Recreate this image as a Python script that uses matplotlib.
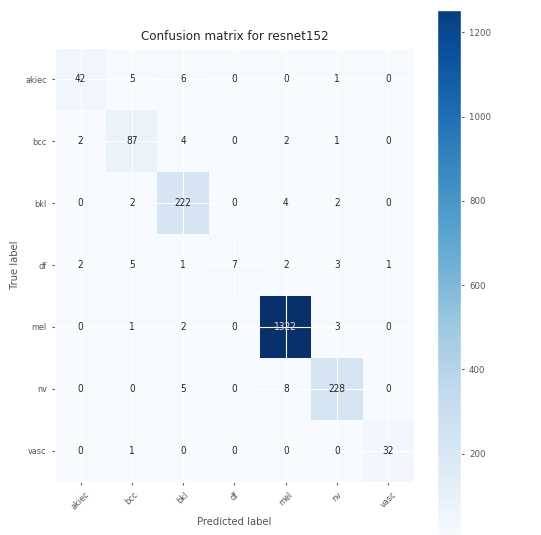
import itertools
import numpy as np
import matplotlib.pyplot as plt

classes = ['akiec', 'bcc', 'bkl', 'df', 'mel', 'nv', 'vasc']
cm = np.array([
    [42, 5, 6, 0, 0, 1, 0],
    [2, 87, 4, 0, 2, 1, 0],
    [0, 2, 222, 0, 4, 2, 0],
    [2, 5, 1, 7, 2, 3, 1],
    [0, 1, 2, 0, 1322, 3, 0],
    [0, 0, 5, 0, 8, 228, 0],
    [0, 1, 0, 0, 0, 0, 32],
])
cbar_ticks = [200, 400, 600, 800, 1000, 1200]
title = 'Confusion matrix for resnet152'

plt.style.use('ggplot')
plt.rcParams['font.family'] = ['DejaVu Sans']
plt.rcParams['font.stretch'] = 'condensed'

W, H = 541, 535
fig = plt.figure(figsize=(W / 100, H / 100), dpi=100)
ax = fig.add_axes([55 / W, (H - 481.7) / H, 359 / W, 433.4 / H])

im = ax.imshow(cm, interpolation='nearest', cmap=plt.cm.Blues, aspect='auto')
ax.set_title(title, fontsize=9.5, color='#262626')

cax = fig.add_axes([437.3 / W, -3 / H, 23.4 / W, (525.5 + 3) / H])
cb = fig.colorbar(im, cax=cax, ticks=cbar_ticks)
cax.set_ylim(0, 1254)
cax.tick_params(labelsize=6.8, colors='#555555', length=2.5)
cax.grid(False)

tick_marks = np.arange(len(classes))
ax.set_xticks(tick_marks)
ax.set_xticklabels(classes, rotation=45)
ax.set_yticks(tick_marks)
ax.set_yticklabels(classes)
ax.tick_params(labelsize=6.5, colors='#555555', length=2.5)

thresh = cm.max() / 2.
for i, j in itertools.product(range(cm.shape[0]), range(cm.shape[1])):
    ax.text(j, i, format(cm[i, j], 'd'),
            ha='center', va='center', fontsize=7.2,
            color='#dde3ee' if cm[i, j] > thresh else '#262626')

ax.set_ylabel('True label', fontsize=8, color='#555555')
ax.set_xlabel('Predicted label', fontsize=8, color='#555555')

fig.savefig('out.png', dpi=100, facecolor='white')
